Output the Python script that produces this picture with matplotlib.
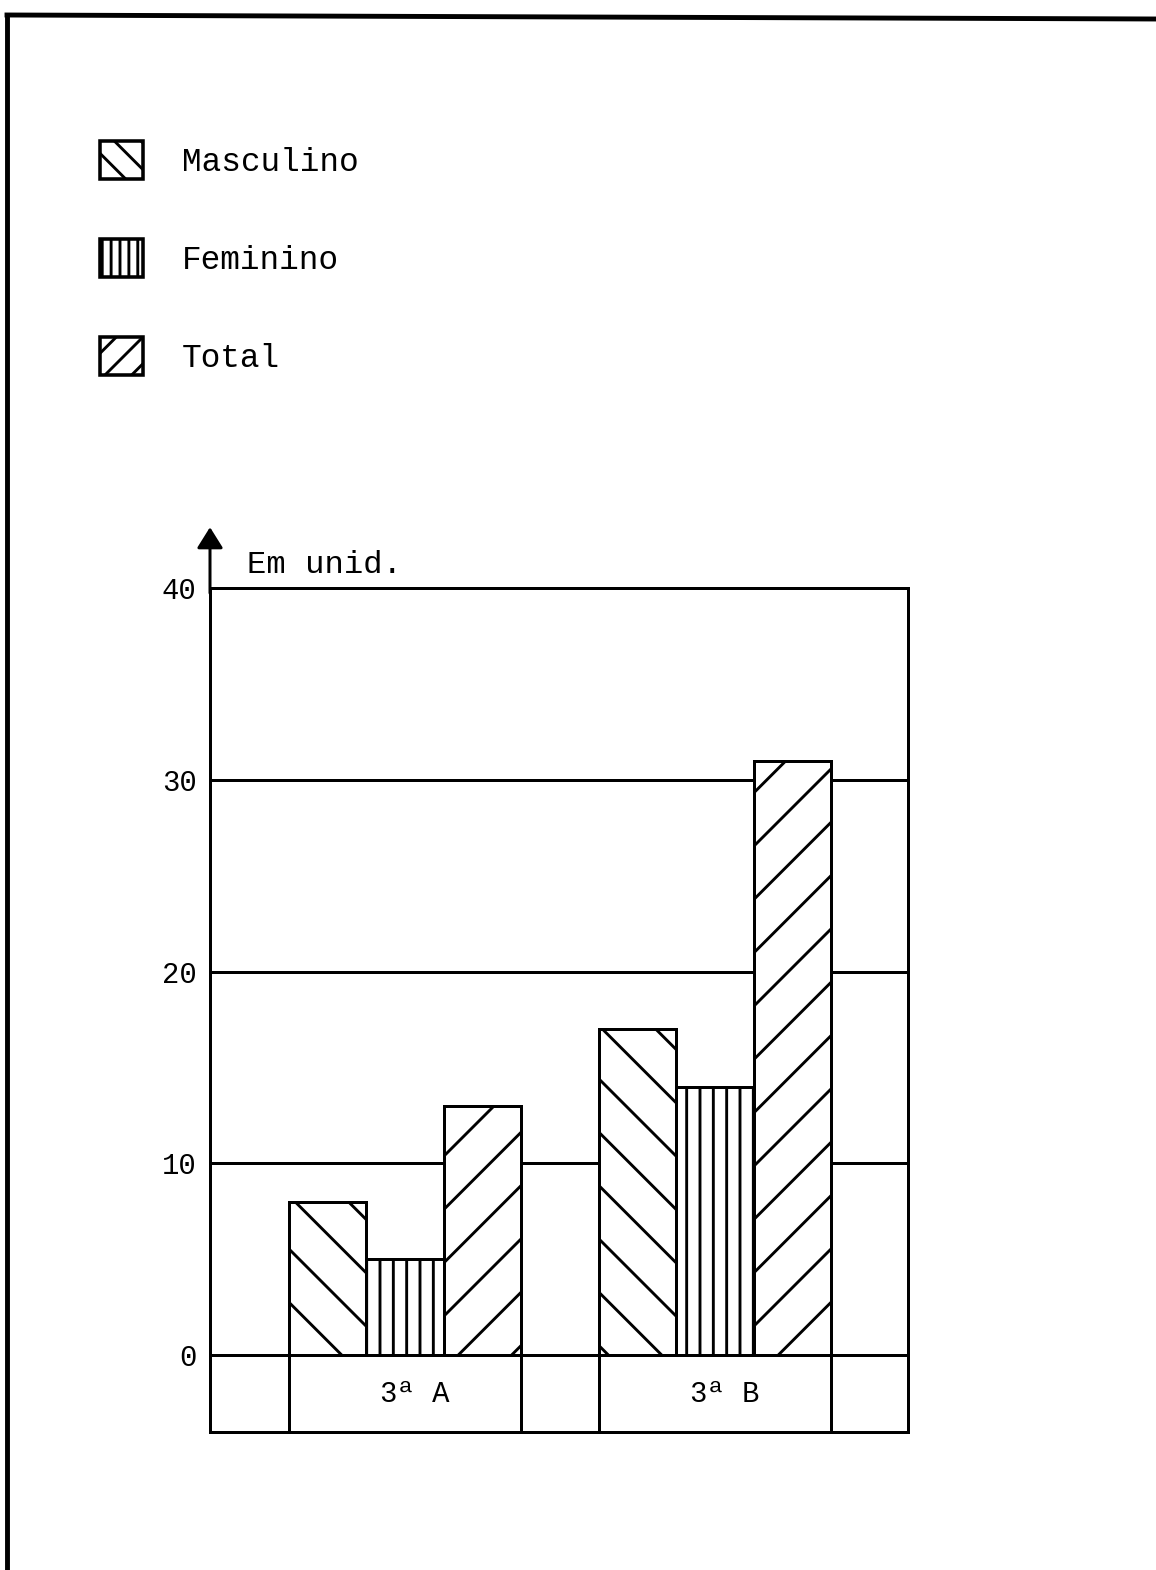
import numpy as np
import matplotlib
matplotlib.use("Agg")
import matplotlib.pyplot as plt
from matplotlib.lines import Line2D
from matplotlib.patches import Patch

# Data (units)
categories = ["3ª A", "3ª B"]
series = ["Masculino", "Feminino", "Total"]
masculino = [8, 17]
feminino = [5, 14]
total = [13, 31]
yticks = [0, 10, 20, 30, 40]

plt.rcParams['font.family'] = ['Liberation Mono', 'DejaVu Sans Mono']
plt.rcParams['hatch.linewidth'] = 1.3
plt.rcParams['hatch.color'] = 'black'

# dpi 160 keeps the hatch lines as sparse as in the drawing
fig = plt.figure(figsize=(7.225, 9.8125), dpi=160)
ax = fig.add_axes([210/1156, 1 - 1432/1570, 698/1156, (1432 - 588)/1570])

x = np.arange(len(categories))
w = 0.25
lw = 1.35

# horizontal rules behind the bars
for yv in [0, 10, 20, 30]:
    ax.axhline(yv, color='black', lw=lw, zorder=1)

hatches = ['\\', '||', '/']
for k, (vals, h, lab) in enumerate(zip([masculino, feminino, total], hatches, series)):
    ax.bar(x + (k - 1) * w, vals, w, facecolor='white', edgecolor='black',
           hatch=h, linewidth=lw, label=lab, zorder=3)

# table row under the bars
for c in x:
    for xe in (c - 1.5 * w, c + 1.5 * w):
        ax.plot([xe, xe], [-4, 0], color='black', lw=lw, zorder=2)
    ax.text(c + 0.03, -2, categories[c], ha='center', va='center', fontsize=13)

ax.set_xlim(-0.629, 1.6226)
ax.set_ylim(-4, 40)
ax.set_xticks([])
ax.set_yticks(yticks)
ax.set_yticklabels([str(v) for v in yticks], fontsize=13)
ax.tick_params(axis='y', length=0, pad=6)
for s in ax.spines.values():
    s.set_linewidth(lw)

ax.text(-0.51, 40.4, "Em unid.", fontsize=14.5, ha='left', va='bottom')

# arrow on the y axis
ax.annotate('', xy=(-0.629, 43.4), xytext=(-0.629, 39.5),
            arrowprops=dict(arrowstyle='-|>,head_length=0.8,head_width=0.5',
                            color='black', lw=lw),
            annotation_clip=False)

# legend as drawn at the top left (boxes are hatched a bit denser)
handles = [Patch(facecolor='white', edgecolor='black', lw=1.6, hatch=h)
           for h in ['\\\\', '|||', '//']]
fig.legend(handles=handles, labels=series, loc='upper left',
           bbox_to_anchor=(100/1156, 1 - 141/1570), frameon=False,
           fontsize=14.75, handlelength=1.3, handleheight=1.4,
           handletextpad=1.2, labelspacing=1.83, borderpad=0, borderaxespad=0)

# page border (left and top edges of the sheet)
fig.add_artist(Line2D([7/1156, 7/1156], [0, 1 - 15/1570], color='black', lw=2.2))
fig.add_artist(Line2D([7/1156, 1], [1 - 15/1570, 1 - 19/1570], color='black', lw=2.2))

fig.savefig("out.png", dpi=160)
